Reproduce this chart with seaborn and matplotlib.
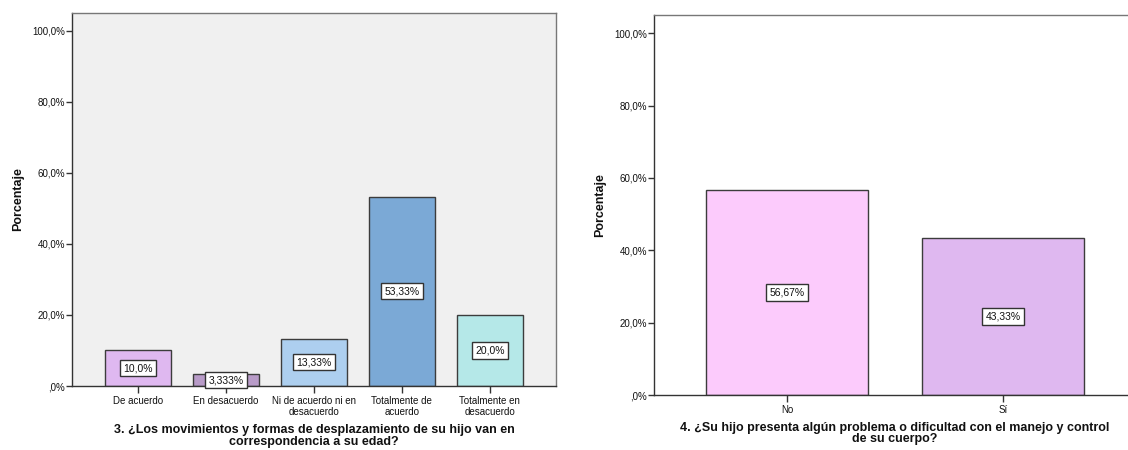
import seaborn as sns
import pandas as pd
import numpy as np
import matplotlib.pyplot as plt

sns.set_theme(style="white")
plt.rcParams['font.family'] = ['Liberation Sans', 'DejaVu Sans']
plt.rcParams['text.color'] = '#111111'
plt.rcParams['xtick.color'] = '#111111'
plt.rcParams['ytick.color'] = '#111111'
plt.rcParams['axes.labelcolor'] = '#111111'

# Datos - pregunta 3
cat3 = ["De acuerdo", "En desacuerdo", "Ni de acuerdo ni en\ndesacuerdo",
        "Totalmente de\nacuerdo", "Totalmente en\ndesacuerdo"]
pct3 = [10.0, 3.333, 13.33, 53.33, 20.0]
lab3 = ["10,0%", "3,333%", "13,33%", "53,33%", "20,0%"]
col3 = ["#DFB8F0", "#B89BC8", "#ADCFEF", "#7BA9D6", "#B5E8E8"]

# Datos - pregunta 4
cat4 = ["No", "Sí"]
pct4 = [56.67, 43.33]
lab4 = ["56,67%", "43,33%"]
col4 = ["#FCCBFC", "#DFB8F0"]

yticks = [0, 20, 40, 60, 80, 100]
ytick_labels = [",0%", "20,0%", "40,0%", "60,0%", "80,0%", "100,0%"]

titulo3 = "3. ¿Los movimientos y formas de desplazamiento de su hijo van en\ncorrespondencia a su edad?"
titulo4 = "4. ¿Su hijo presenta algún problema o dificultad con el manejo y control\nde su cuerpo?"

fig = plt.figure(figsize=(11.28, 4.5), dpi=100)
ax1 = fig.add_axes([0.0638, 0.1422, 0.429, 0.829])
ax2 = fig.add_axes([0.5798, 0.1222, 0.4273, 0.8444])


def dibujar(ax, cats, vals, labs, cols, titulo, bg, xlim):
    df = pd.DataFrame({"cat": cats, "pct": vals})
    sns.barplot(data=df, x="cat", y="pct", hue="cat", palette=cols, legend=False,
                width=0.75, edgecolor="#3c3c3c", linewidth=1.0, saturation=1, ax=ax)
    ax.set_facecolor(bg)
    ax.set_ylim(0, 105)
    ax.set_xlim(*xlim)
    ax.set_yticks(yticks)
    ax.set_yticklabels(ytick_labels, fontsize=7)
    ax.tick_params(axis="x", labelsize=7, length=5, width=1, color="#333333",
                   direction="out", bottom=True, pad=2)
    ax.tick_params(axis="y", length=4, width=1, color="#333333",
                   direction="out", left=True, pad=1)
    for s in ax.spines.values():
        s.set_color("#777777")
        s.set_linewidth(1)
    ax.spines["left"].set_color("#333333")
    ax.spines["bottom"].set_color("#333333")
    ax.set_ylabel("Porcentaje", fontsize=9, fontweight="bold", labelpad=6)
    ax.set_xlabel(titulo, fontsize=9, fontweight="bold", linespacing=0.95, labelpad=5)
    for i, (v, t) in enumerate(zip(vals, labs)):
        ax.text(i, v / 2, t, ha="center", va="center", fontsize=7.5,
                bbox=dict(boxstyle="square,pad=0.3", fc="white", ec="#333333", lw=1))


dibujar(ax1, cat3, pct3, lab3, col3, titulo3, "#F0F0F0", (-0.75, 4.75))
dibujar(ax2, cat4, pct4, lab4, col4, titulo4, "white", (-0.615, 1.615))

fig.savefig("out.png", dpi=100)
